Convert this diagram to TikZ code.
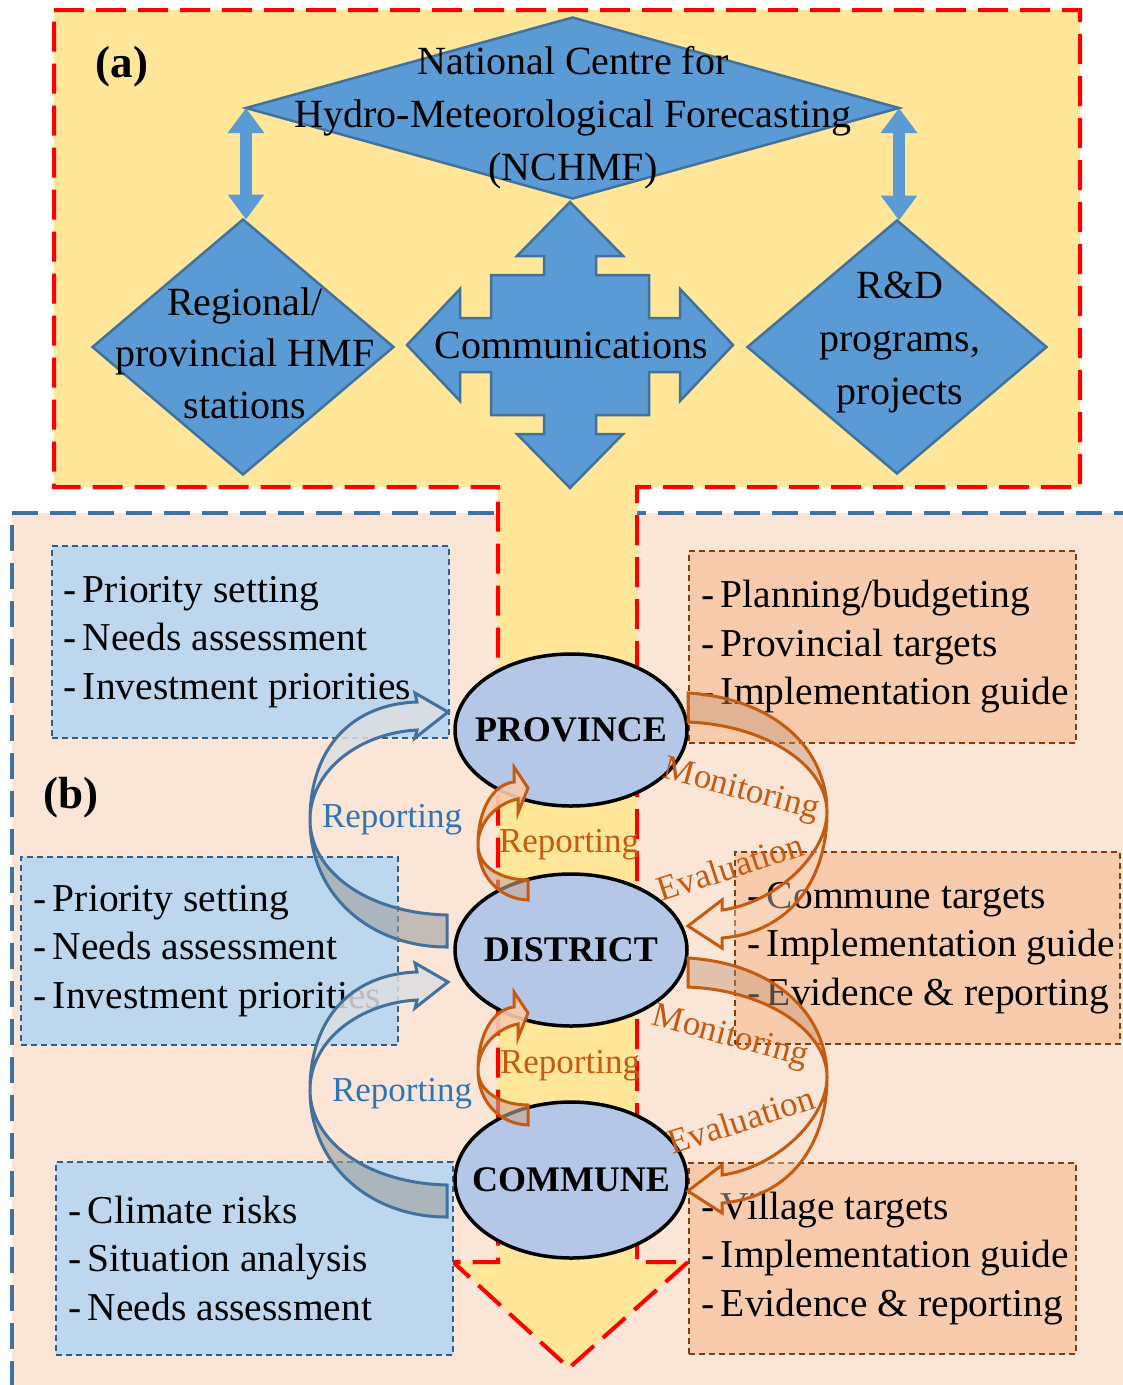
\documentclass[tikz,border=0pt]{standalone}
\usepackage{fontspec}
\setmainfont{Liberation Serif}
\usetikzlibrary{shapes.geometric,arrows.meta}
\definecolor{paneyellow}{HTML}{FFE699}
\definecolor{panesalmon}{HTML}{FBE5D6}
\definecolor{paneframe}{HTML}{41719C}
\definecolor{dmblue}{HTML}{5B9BD5}
\definecolor{dmedge}{HTML}{41719C}
\definecolor{ellblue}{HTML}{B4C7E7}
\definecolor{needsfill}{HTML}{BDD7EE}
\definecolor{needsedge}{HTML}{2F5F8F}
\definecolor{planfill}{HTML}{F8CBAD}
\definecolor{planedge}{HTML}{843C0C}
\definecolor{repblue}{HTML}{2E75B6}
\definecolor{reporange}{HTML}{C55A11}
\begin{document}
\begin{tikzpicture}[x=1pt,y=-1pt,
  topshape/.style={draw=dmedge,fill=dmblue,line width=2.5pt,outer sep=0pt,inner sep=0pt},
  topdiamond/.style={topshape,diamond},
  toptext/.style={align=center,inner sep=0pt,font=\fontsize{40pt}{53pt}\selectfont},
  panellabel/.style={inner sep=0pt,font=\fontsize{45pt}{50pt}\selectfont\bfseries},
  level/.style={ellipse,draw=black,line width=3.5pt,fill=ellblue,minimum width=232pt,
    minimum height=152pt,inner sep=0pt,font=\fontsize{36pt}{40pt}\selectfont\bfseries},
  needsbox/.style={draw=needsedge,fill=needsfill,line width=1.5pt,dash pattern=on 6pt off 4pt,
    anchor=north west,inner sep=0pt},
  planbox/.style={draw=planedge,fill=planfill,line width=1.5pt,dash pattern=on 6pt off 4pt,
    anchor=north west,inner sep=0pt},
  listtext/.style={anchor=west,align=left,inner sep=0pt,font=\fontsize{39.5pt}{48.5pt}\selectfont},
  linkarrow/.style={draw=dmblue,line width=12pt,>={Triangle[width=35pt,length=25pt]},<->},
  bluefront/.style={draw=dmedge,line width=3pt,fill=blue!8!gray!25,fill opacity=0.85},
  blueback/.style={draw=dmedge,line width=3pt,fill=gray!75,fill opacity=0.6},
  orgfront/.style={draw=reporange,line width=3pt,fill=planfill,fill opacity=0.9},
  orgback/.style={draw=reporange,line width=3pt,fill=reporange!45!gray!60,fill opacity=0.6},
  bigfront/.style={draw=reporange,line width=3pt,fill=planfill!60,fill opacity=0.4},
  bigback/.style={draw=reporange,line width=3pt,fill=reporange!60!gray!70,fill opacity=0.45},
  replabel/.style={inner sep=0pt,font=\fontsize{35pt}{40pt}\selectfont}]
\useasboundingbox (0,0) rectangle (1123,1385);
\clip (0,0) rectangle (1123,1385);

% panel (b)
\fill[panesalmon] (12,513) rectangle (1140,1400);
\draw[paneframe,line width=3.5pt,dash pattern=on 26pt off 12pt] (1140,513) -- (12,513) -- (12,1400);

% panel (a) with the strip and its arrow head
\filldraw[red,line width=4pt,dash pattern=on 30pt off 12pt,fill=paneyellow]
  (54,10) -- (1080,10) -- (1080,487) -- (637,487) -- (637,1262) -- (688,1262)
  -- (569,1368) -- (453,1262) -- (498,1262) -- (498,487) -- (54,487) -- cycle;

\node[panellabel] (lbla) at (122,67) {(a)};
\node[panellabel] (lblb) at (71,798) {(b)};

% forecasting system
\node[topdiamond,minimum width=653pt,minimum height=181pt] (nchmf) at (572.5,108) {};
\node[toptext] (nchmftxt) at (573,118) {National Centre for\\Hydro-Meteorological Forecasting\\(NCHMF)};
\node[topdiamond,minimum width=301pt,minimum height=255pt] (regional) at (243,347) {};
\node[toptext,font=\fontsize{40pt}{51.5pt}\selectfont] (regionaltxt) at (245,353) {Regional/\\provincial HMF\\stations};
\node[topdiamond,minimum width=299pt,minimum height=253pt] (rd) at (897,347) {};
\node[toptext] (rdtxt) at (900,342) {R\&D\\programs,\\projects};
\draw[linkarrow] (nchmf.west) -- (nchmf.west |- regional.north);
\draw[linkarrow] (nchmf.east) -- (nchmf.east |- rd.north);

\coordinate (commsc) at (570,345);
\begin{scope}[shift={(commsc)}]
\filldraw[topshape] (0,-143) -- (53,-89) -- (26,-89) -- (26,-70) -- (79,-70) -- (79,-27)
  -- (110,-27) -- (110,-56) -- (163,0) -- (110,56) -- (110,27) -- (79,27) -- (79,70)
  -- (26,70) -- (26,89) -- (53,89) -- (0,143) -- (-53,89) -- (-26,89) -- (-26,70)
  -- (-79,70) -- (-79,27) -- (-110,27) -- (-110,56) -- (-163,0) -- (-110,-56)
  -- (-110,-27) -- (-79,-27) -- (-79,-70) -- (-26,-70) -- (-26,-89) -- (-53,-89) -- cycle;
\end{scope}
\node[toptext] (comms) at (571,345) {Communications};

% lists
\node[needsbox,minimum width=397pt,minimum height=192pt] (provneeds) at (51,545) {};
\node[listtext] (provneedstxt) at ([xshift=12pt]provneeds.west)
  {-\,Priority setting\\-\,Needs assessment\\-\,Investment priorities};
\node[needsbox,minimum width=377pt,minimum height=188pt] (distneeds) at (20,856) {};
\node[listtext] (distneedstxt) at ([xshift=13pt]distneeds.west)
  {-\,Priority setting\\-\,Needs assessment\\-\,Investment priorities};
\node[needsbox,minimum width=397pt,minimum height=193pt] (commneeds) at (55,1161) {};
\node[listtext] (commneedstxt) at ([xshift=13pt]commneeds.west)
  {-\,Climate risks\\-\,Situation analysis\\-\,Needs assessment};
\node[planbox,minimum width=387pt,minimum height=192pt] (provplan) at (688,550) {};
\node[listtext] (provplantxt) at ([xshift=13pt]provplan.west)
  {-\,Planning/budgeting\\-\,Provincial targets\\-\,Implementation guide};
\node[planbox,minimum width=385pt,minimum height=192pt] (distplan) at (734,851) {};
\node[listtext] (distplantxt) at ([xshift=13pt]distplan.west)
  {-\,Commune targets\\-\,Implementation guide\\-\,Evidence \& reporting};
\node[planbox,minimum width=387pt,minimum height=191pt] (commplan) at (688,1162) {};
\node[listtext] (commplantxt) at ([xshift=13pt]commplan.west)
  {-\,Village targets\\-\,Implementation guide\\-\,Evidence \& reporting};

% levels
\node[level] (prov) at (571,730) {\makebox[0pt]{PROVINCE}};
\node[level] (dist) at (571,950) {\makebox[0pt]{DISTRICT}};
\node[level,minimum height=156pt] (comm) at (571,1180) {\makebox[0pt]{COMMUNE}};

% reporting, left
\filldraw[blueback] (310,820) .. controls (310,895) and (370,947) .. (447,947) -- (447,915)
  .. controls (365,913) and (310,870) .. (310,820) -- cycle;
\filldraw[bluefront] (310,820) .. controls (310,748) and (352,704) .. (417,702) -- (415,693)
  -- (448,712) -- (415,738) -- (417,730) .. controls (360,733) and (310,770) .. (310,820) -- cycle;
\filldraw[blueback] (310,1090) .. controls (310,1165) and (370,1217) .. (447,1217) -- (447,1185)
  .. controls (365,1183) and (310,1140) .. (310,1090) -- cycle;
\filldraw[bluefront] (310,1090) .. controls (310,1018) and (352,974) .. (417,972) -- (415,963)
  -- (448,982) -- (415,1008) -- (417,1000) .. controls (360,1003) and (310,1040) .. (310,1090) -- cycle;
\node[replabel,text=repblue] (rep1) at (392,820) {Reporting};
\node[replabel,text=repblue] (rep2) at (402,1094) {Reporting};

% reporting, middle
\filldraw[orgback] (478,845) .. controls (478,877) and (500,899) .. (528,900) -- (528,880)
  .. controls (503,880) and (478,868) .. (478,845) -- cycle;
\filldraw[orgfront] (478,845) .. controls (478,808) and (494,784) .. (514,782) -- (514,767)
  -- (528,788) -- (518,813) -- (518,799) .. controls (497,803) and (478,822) .. (478,845) -- cycle;
\filldraw[orgback] (478,1070) .. controls (478,1102) and (500,1124) .. (528,1125) -- (528,1105)
  .. controls (503,1105) and (478,1093) .. (478,1070) -- cycle;
\filldraw[orgfront] (478,1070) .. controls (478,1033) and (494,1009) .. (514,1007) -- (514,992)
  -- (528,1013) -- (518,1038) -- (518,1024) .. controls (497,1028) and (478,1047) .. (478,1070) -- cycle;
\node[replabel,text=reporange] (rep3) at (569,845) {Reporting};
\node[replabel,text=reporange] (rep4) at (570,1066) {Reporting};

% monitoring and evaluation, right
\filldraw[bigback] (688,693) .. controls (770,698) and (827,745) .. (827,812)
  .. controls (827,765) and (765,725) .. (688,722) -- cycle;
\filldraw[bigfront] (827,812) .. controls (827,880) and (790,932) .. (722,938) -- (722,948)
  -- (688,926) -- (722,900) -- (722,910) .. controls (775,903) and (827,855) .. (827,812) -- cycle;
\filldraw[bigback] (688,958) .. controls (770,963) and (827,1010) .. (827,1077)
  .. controls (827,1030) and (765,990) .. (688,987) -- cycle;
\filldraw[bigfront] (827,1077) .. controls (827,1145) and (790,1197) .. (722,1203) -- (722,1213)
  -- (688,1191) -- (722,1165) -- (722,1175) .. controls (775,1168) and (827,1120) .. (827,1077) -- cycle;
\node[replabel,text=reporange,rotate=-15] (mon1) at (741,791) {Monitoring};
\node[replabel,text=reporange,rotate=18] (eval1) at (730,867) {Evaluation};
\node[replabel,text=reporange,rotate=-15] (mon2) at (730,1038) {Monitoring};
\node[replabel,text=reporange,rotate=18] (eval2) at (741,1120) {Evaluation};
\end{tikzpicture}
\end{document}
